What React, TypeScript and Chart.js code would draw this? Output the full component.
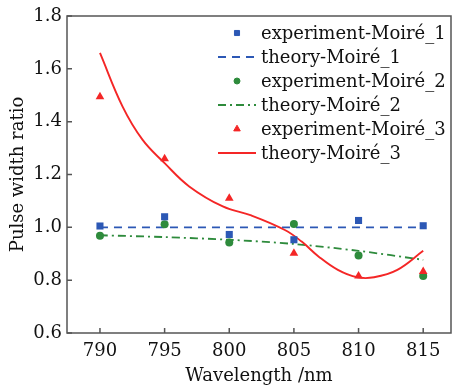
import React, { useEffect, useRef } from "react";
import { Chart, registerables } from "chart.js";
import { drawPoint } from "chart.js/helpers";
Chart.register(...registerables);

const wavelengths = [790, 795, 800, 805, 810, 815];
const exp1 = [1.005, 1.04, 0.973, 0.953, 1.026, 1.006];
const theory1 = [1.0, 1.0, 1.0, 1.0, 1.0, 1.0];
const exp2 = [0.968, 1.012, 0.943, 1.013, 0.893, 0.816];
const theory2 = [0.97, 0.963, 0.953, 0.937, 0.911, 0.877];
const exp3 = [1.494, 1.26, 1.11, 0.902, 0.816, 0.833];
const theory3X = [790, 791.75, 793.3, 795, 796.9, 799.5, 801.7, 804.3, 805.6, 806.9, 808.4, 809.9, 811.2, 813, 815];
const theory3Y = [1.66, 1.457, 1.331, 1.243, 1.155, 1.079, 1.045, 0.99, 0.946, 0.89, 0.839, 0.811, 0.811, 0.839, 0.911];
const yTicks = [0.6, 0.8, 1.0, 1.2, 1.4, 1.6, 1.8];
const labels = [
  "experiment-Moiré_1",
  "theory-Moiré_1",
  "experiment-Moiré_2",
  "theory-Moiré_2",
  "experiment-Moiré_3",
  "theory-Moiré_3",
];

const BLUE = "#2c58b5";
const GREEN = "#2e8b3c";
const RED = "#f42626";
const FRAME = "#555555";
const FONT = "'DejaVu Serif', serif";
const FS = 18;

const pts = (xs: number[], ys: number[]) => xs.map((x, i) => ({ x, y: ys[i] }));

const framePlugin = {
  id: "frameAndTicks",
  afterDraw(chart: any) {
    const { ctx, chartArea } = chart;
    const { left, right, top, bottom } = chartArea;
    ctx.save();
    ctx.strokeStyle = FRAME;
    ctx.lineWidth = 1.5;
    ctx.strokeRect(left, top, right - left, bottom - top);
    const xs = chart.scales.x;
    const ys = chart.scales.y;
    ctx.beginPath();
    xs.ticks.forEach((t: any) => {
      const px = xs.getPixelForValue(t.value);
      ctx.moveTo(px, bottom);
      ctx.lineTo(px, bottom - 5);
    });
    ys.ticks.forEach((t: any) => {
      const py = ys.getPixelForValue(t.value);
      ctx.moveTo(left, py);
      ctx.lineTo(left + 5, py);
    });
    ctx.stroke();

    // legend
    const x0 = right - 233;
    const sampleW = 38;
    ctx.font = `${FS}px ${FONT}`;
    ctx.textBaseline = "middle";
    ctx.fillStyle = "#111";
    chart.data.datasets.forEach((ds: any, i: number) => {
      const y = top + 17 + i * 24;
      if (ds.showLine) {
        ctx.save();
        ctx.strokeStyle = ds.borderColor;
        ctx.lineWidth = ds.borderWidth;
        ctx.setLineDash(ds.borderDash || []);
        ctx.beginPath();
        ctx.moveTo(x0, y);
        ctx.lineTo(x0 + sampleW, y);
        ctx.stroke();
        ctx.restore();
      } else {
        ctx.save();
        ctx.fillStyle = ds.backgroundColor;
        ctx.strokeStyle = ds.borderColor;
        ctx.lineWidth = 1;
        drawPoint(ctx, { pointStyle: ds.pointStyle, radius: ds.legendRadius, rotation: 0, borderWidth: 1 } as any, x0 + sampleW / 2, y);
        ctx.restore();
      }
      ctx.fillStyle = "#111";
      ctx.fillText(ds.label, x0 + 43, y + 1);
    });
    ctx.restore();
  },
};

export default function App() {
  const ref = useRef<HTMLCanvasElement>(null);
  useEffect(() => {
    document.body.style.margin = "0";
    const canvas = ref.current!;
    const chart = new Chart(canvas, {
      type: "scatter",
      data: {
        datasets: [
          {
            label: labels[0],
            data: pts(wavelengths, exp1),
            pointStyle: "rect",
            pointRadius: 5,
            legendRadius: 3.6,
            backgroundColor: BLUE,
            borderColor: BLUE,
            borderWidth: 0,
            showLine: false,
            order: 1,
          } as any,
          {
            label: labels[1],
            data: pts(wavelengths, theory1),
            showLine: true,
            pointRadius: 0,
            borderColor: BLUE,
            backgroundColor: BLUE,
            borderWidth: 1.8,
            borderDash: [8, 6],
            order: 4,
          },
          {
            label: labels[2],
            data: pts(wavelengths, exp2),
            pointStyle: "circle",
            pointRadius: 4,
            legendRadius: 3,
            backgroundColor: GREEN,
            borderColor: GREEN,
            borderWidth: 0,
            showLine: false,
            order: 2,
          } as any,
          {
            label: labels[3],
            data: pts(wavelengths, theory2),
            showLine: true,
            pointRadius: 0,
            borderColor: GREEN,
            backgroundColor: GREEN,
            borderWidth: 1.8,
            borderDash: [8, 4, 2, 4],
            tension: 0.3,
            order: 5,
          },
          {
            label: labels[4],
            data: pts(wavelengths, exp3),
            pointStyle: "triangle",
            pointRadius: 5,
            legendRadius: 3.8,
            backgroundColor: RED,
            borderColor: RED,
            borderWidth: 0,
            showLine: false,
            order: 0,
          } as any,
          {
            label: labels[5],
            data: pts(theory3X, theory3Y),
            showLine: true,
            pointRadius: 0,
            borderColor: RED,
            backgroundColor: RED,
            borderWidth: 1.9,
            tension: 0.4,
            order: 3,
          },
        ],
      },
      options: {
        responsive: false,
        animation: false,
        layout: { padding: { top: 16, right: 1, left: 0, bottom: 0 } },
        plugins: { legend: { display: false }, tooltip: { enabled: false } },
        scales: {
          x: {
            type: "linear",
            min: 787.45,
            max: 817.15,
            afterBuildTicks: (s: any) => {
              s.ticks = wavelengths.map((v) => ({ value: v }));
            },
            afterFit: (s: any) => {
              s.height = 54;
            },
            grid: { display: false, drawTicks: false },
            border: { display: false },
            ticks: {
              color: "#111",
              font: { family: FONT, size: FS },
              padding: 8,
              maxRotation: 0,
              callback: (v: any) => String(v),
            },
            title: {
              display: true,
              text: "Wavelength /nm",
              color: "#111",
              font: { family: FONT, size: FS },
              padding: { top: 0, bottom: 0 },
            },
          },
          y: {
            min: 0.6,
            max: 1.8,
            afterBuildTicks: (s: any) => {
              s.ticks = yTicks.map((v) => ({ value: v }));
            },
            afterFit: (s: any) => {
              s.width = 67;
            },
            grid: { display: false, drawTicks: false },
            border: { display: false },
            ticks: {
              color: "#111",
              font: { family: FONT, size: FS },
              padding: 5,
              callback: (v: any) => Number(v).toFixed(1),
            },
            title: {
              display: true,
              text: "Pulse width ratio",
              color: "#111",
              font: { family: FONT, size: FS },
              padding: { top: 8, bottom: 0 },
            },
          },
        },
      } as any,
      plugins: [framePlugin],
    });
    return () => chart.destroy();
  }, []);
  return <canvas ref={ref} width={456} height={387} style={{ display: "block" }} />;
}
